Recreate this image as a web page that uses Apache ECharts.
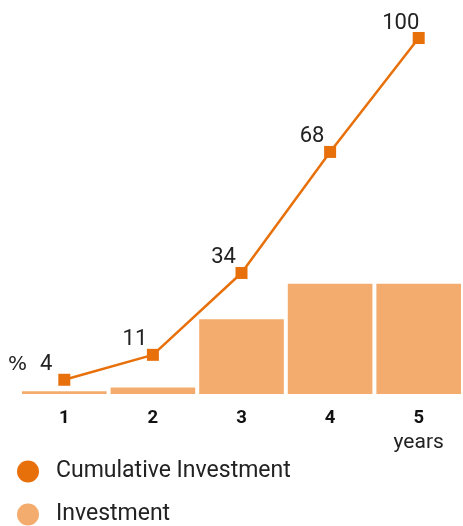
<!DOCTYPE html>
<html>
<head>
<meta charset="utf-8">
<script src="https://cdn.jsdelivr.net/npm/echarts@6/dist/echarts.min.js"></script>
<style>
html,body{margin:0;padding:0;background:#fff;}
#c{width:463px;height:526px;}
</style>
</head>
<body>
<div id="c"></div>
<script>
var categories = ['1', '2', '3', '4', '5'];
var cumulativeInvestment = [4, 11, 34, 68, 100];
var investment = [0.8, 1.8, 21, 31, 31];
var unitLabel = '%';
var axisUnit = 'years';

var chart = echarts.init(document.getElementById('c'));
var FONT = 'Roboto';
chart.setOption({
  animation: false,
  backgroundColor: '#fff',
  grid: { left: 20, right: -4.5, top: 38, bottom: 132, containLabel: false },
  legend: {
    orient: 'vertical',
    left: 17,
    top: 460,
    padding: 0,
    itemWidth: 22,
    itemHeight: 22,
    itemGap: 20,
    icon: 'circle',
    textStyle: { fontFamily: FONT, fontSize: 23, color: '#222', padding: [0, 0, 0, 12] },
    data: ['Cumulative Investment', 'Investment']
  },
  xAxis: {
    type: 'category',
    data: categories,
    axisLine: { show: false },
    axisTick: { show: false },
    axisLabel: {
      margin: 12,
      fontFamily: FONT,
      formatter: function (v, i) {
        return i === categories.length - 1 ? '{b|' + v + '}\n{y|' + axisUnit + '}' : '{b|' + v + '}';
      },
      rich: {
        b: { fontFamily: FONT, fontSize: 18.5, fontWeight: 'bold', color: '#111', lineHeight: 25 },
        y: { fontFamily: FONT, fontSize: 21, color: '#222', lineHeight: 24 }
      }
    }
  },
  yAxis: { type: 'value', min: 0, max: 100, show: false },
  series: [
    {
      name: 'Investment',
      type: 'bar',
      data: investment,
      barCategoryGap: '4.5%',
      itemStyle: { color: '#F3AC6D' },
      z: 1
    },
    {
      name: 'Cumulative Investment',
      type: 'line',
      data: cumulativeInvestment,
      symbol: 'rect',
      symbolSize: 12,
      lineStyle: { color: '#E8700A', width: 2.5 },
      itemStyle: { color: '#E8700A' },
      label: {
        show: true,
        position: 'inside',
        offset: [-18, -15],
        fontFamily: FONT,
        fontSize: 22,
        color: '#222'
      },
      z: 3
    }
  ],
  graphic: [{
    type: 'text', left: 8, top: 355, z: 10,
    style: { text: unitLabel, fontFamily: 'DejaVu Sans', fontSize: 20, fill: '#222' }
  }]
});
</script>
</body>
</html>
